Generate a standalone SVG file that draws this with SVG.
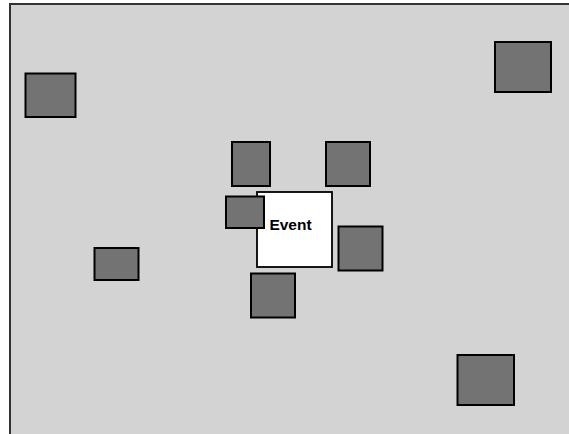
<svg xmlns="http://www.w3.org/2000/svg" width="569" height="434" viewBox="0 0 569 434">
<style>
.bg{fill:#d3d3d3;stroke:#333333;stroke-width:2}
.blk{fill:#737373;stroke:#000000;stroke-width:2}
.evt{fill:#ffffff;stroke:#000000;stroke-width:1.8}
.lbl{font-family:"Liberation Sans",Arial,sans-serif;font-weight:bold;font-size:15.5px;fill:#000000}
</style>
<rect class="bg" x="10" y="4" width="600" height="500"/>
<g id="connectors"></g>
<g id="n1"><rect class="blk" x="25.5" y="73.5" width="50" height="43.5"/></g>
<g id="n2"><rect class="blk" x="495" y="42" width="56" height="50"/></g>
<g id="n3"><rect class="blk" x="232" y="142" width="38" height="44"/></g>
<g id="n4"><rect class="blk" x="326" y="142" width="44" height="44"/></g>
<g id="event"><rect class="evt" x="257" y="192" width="75" height="75"/><text class="lbl" x="290.5" y="229.5" text-anchor="middle">Event</text></g>
<g id="n5"><rect class="blk" x="226" y="196.5" width="38" height="31.5"/></g>
<g id="n6"><rect class="blk" x="338.5" y="226.5" width="44" height="44"/></g>
<g id="n7"><rect class="blk" x="251" y="273.5" width="44" height="44"/></g>
<g id="n8"><rect class="blk" x="94.5" y="248" width="44" height="32"/></g>
<g id="n9"><rect class="blk" x="457.5" y="355" width="56.5" height="50"/></g>
</svg>
